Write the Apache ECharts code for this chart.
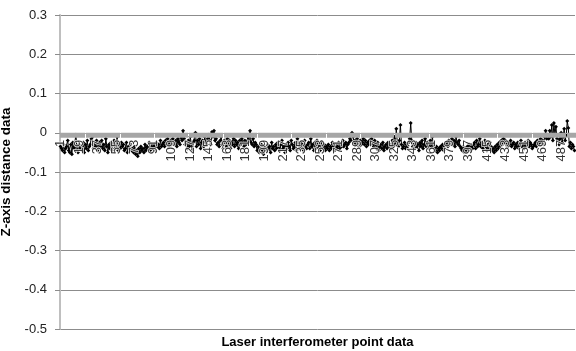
<!DOCTYPE html>
<html>
<head>
<meta charset="utf-8">
<script src="https://cdn.jsdelivr.net/npm/echarts@6/dist/echarts.min.js"></script>
<style>
  html, body { margin: 0; padding: 0; background: #fff; }
  #chart { width: 576px; height: 351px; }
</style>
</head>
<body>
<div id="chart"></div>
<script>
// Z-axis distance, points 1..500
const zValues = [
  -0.035, -0.04, -0.045, -0.03, -0.05, -0.04, -0.035, -0.02, -0.045, -0.05, -0.03, -0.055, -0.025, -0.04, -0.035, -0.005, -0.045, -0.05, -0.03, -0.04,
  -0.035, -0.045, -0.025, -0.05, -0.03, -0.04, -0.02, -0.045, -0.035, -0.03, -0.015, -0.01, -0.04, -0.025, -0.035, -0.02, -0.045, -0.03, -0.025, -0.035,
  -0.02, -0.04, -0.03, -0.045, -0.015, -0.035, -0.05, -0.03, -0.04, -0.025, -0.045, -0.03, -0.02, -0.04, -0.035, -0.01, -0.045, -0.03, -0.04, -0.025,
  -0.035, -0.03, -0.045, -0.04, -0.025, -0.05, -0.035, -0.04, -0.03, -0.045, -0.04, -0.05, -0.035, -0.055, -0.045, -0.06, -0.04, -0.05, -0.035, -0.045,
  -0.04, -0.05, -0.03, -0.045, -0.035, -0.04, -0.025, -0.045, -0.03, -0.04, -0.035, -0.03, -0.045, -0.025, -0.035, -0.03, -0.04, -0.02, -0.035, -0.03,
  -0.025, -0.035, -0.02, -0.03, -0.015, -0.035, -0.025, -0.02, -0.03, -0.015, -0.025, -0.03, -0.02, -0.035, -0.015, -0.025, -0.03, -0.01, -0.02, 0.005,
  -0.015, -0.03, -0.025, -0.04, -0.02, -0.035, -0.01, -0.03, -0.045, -0.025, -0.02, 0.0, -0.035, -0.02, -0.03, -0.015, -0.04, -0.025, -0.02, -0.035,
  -0.01, -0.025, -0.03, -0.015, -0.005, -0.02, -0.03, 0.002, -0.01, 0.005, -0.02, -0.015, -0.03, -0.025, -0.035, -0.02, -0.01, -0.03, -0.04, -0.02,
  -0.025, -0.035, -0.015, -0.03, -0.02, -0.04, -0.025, -0.03, -0.015, -0.035, -0.02, -0.03, -0.025, -0.04, -0.02, -0.03, -0.015, -0.025, -0.035, -0.02,
  -0.03, -0.025, -0.01, -0.02, 0.005, -0.025, -0.03, -0.015, -0.035, -0.025, -0.03, -0.045, -0.035, -0.05, -0.04, -0.03, -0.045, -0.055, -0.035, -0.04,
  -0.045, -0.03, -0.04, -0.035, -0.05, -0.025, -0.04, -0.035, -0.045, -0.03, -0.04, -0.025, -0.035, -0.045, -0.03, -0.02, -0.04, -0.035, -0.05, -0.03,
  -0.04, -0.025, -0.035, -0.045, -0.02, -0.03, -0.04, -0.035, -0.025, -0.045, -0.015, -0.03, -0.04, -0.025, -0.035, -0.03, -0.045, -0.02, -0.035, -0.04,
  -0.03, -0.025, -0.04, -0.015, -0.035, -0.03, -0.045, -0.025, -0.04, -0.02, -0.035, -0.03, -0.045, -0.025, -0.035, -0.04, -0.03, -0.045, -0.035, -0.04,
  -0.03, -0.045, -0.035, -0.04, -0.025, -0.035, -0.045, -0.03, -0.04, -0.035, -0.025, -0.04, -0.03, -0.035, -0.02, -0.035, -0.03, -0.025, -0.04, -0.03,
  -0.025, -0.015, -0.02, 0.0, -0.01, -0.025, -0.02, -0.03, -0.015, -0.025, -0.035, -0.02, -0.03, -0.025, -0.015, -0.03, -0.02, -0.035, -0.025, -0.03,
  -0.02, -0.03, -0.015, -0.025, -0.035, -0.02, -0.03, -0.04, -0.025, -0.045, -0.035, -0.03, -0.04, -0.025, -0.045, -0.035, -0.03, -0.04, -0.025, -0.035,
  -0.03, -0.04, -0.02, -0.035, -0.01, -0.03, 0.01, -0.025, -0.035, -0.02, 0.02, -0.03, -0.04, -0.035, -0.025, -0.04, -0.03, -0.035, -0.025, -0.015,
  0.025, -0.02, -0.035, -0.03, -0.04, -0.025, -0.035, -0.03, -0.045, -0.025, -0.035, -0.02, -0.04, -0.03, -0.015, -0.035, -0.025, -0.04, -0.03, -0.02,
  -0.035, -0.01, -0.03, -0.04, -0.045, -0.035, -0.05, -0.04, -0.045, -0.035, -0.04, -0.03, -0.045, -0.035, -0.03, -0.025, -0.035, -0.02, -0.03, -0.025,
  -0.015, -0.03, -0.02, -0.035, -0.01, -0.025, -0.03, -0.02, -0.035, -0.04, -0.045, -0.035, -0.05, -0.04, -0.045, -0.035, -0.04, -0.03, -0.045, -0.035,
  -0.04, -0.03, -0.025, -0.04, -0.02, -0.035, -0.03, -0.015, -0.035, -0.025, -0.04, -0.03, -0.02, -0.035, -0.045, -0.03, -0.04, -0.025, -0.035, -0.045,
  -0.04, -0.05, -0.035, -0.045, -0.03, -0.04, -0.025, -0.035, -0.02, -0.03, -0.015, -0.025, -0.02, -0.03, -0.035, -0.025, -0.03, -0.02, -0.035, -0.03,
  -0.025, -0.04, -0.03, -0.035, -0.025, -0.04, -0.03, -0.02, -0.035, -0.03, -0.04, -0.025, -0.035, -0.03, -0.02, -0.035, -0.025, -0.03, -0.04, -0.035,
  -0.03, -0.025, -0.035, -0.02, -0.03, -0.025, -0.015, -0.025, -0.02, -0.03, -0.01, 0.005, -0.015, -0.005, -0.015, 0.005, -0.01, 0.02, -0.02, 0.025,
  -0.005, 0.015, -0.015, -0.02, -0.03, -0.015, 0.0, -0.025, -0.01, 0.01, -0.02, -0.005, 0.03, 0.012, -0.035, -0.025, -0.04, -0.03, -0.035, -0.045
];
const pointLabels = zValues.map((_, i) => String(i + 1));

const Y_MIN = -0.5;
const Y_MAX = 0.3;
const Y_STEP = 0.1;

const GRID_TOP = 15;
const GRID_BOTTOM = 22;
const CHART_H = 351;

// x axis sits on y = 0, like Excel's "horizontal axis crosses at 0"
const plotH = CHART_H - GRID_TOP - GRID_BOTTOM;
const zeroOffset = -plotH * (0 - Y_MIN) / (Y_MAX - Y_MIN);

const FONT = '"Liberation Sans", Arial, sans-serif';

const chart = echarts.init(document.getElementById('chart'), null, { renderer: 'canvas' });

chart.setOption({
  animation: false,
  backgroundColor: '#fff',
  grid: { left: 60, right: 1, top: GRID_TOP, bottom: GRID_BOTTOM, containLabel: false, outerBoundsMode: 'none' },
  xAxis: {
    type: 'category',
    data: pointLabels,
    boundaryGap: true,
    position: 'bottom',
    offset: zeroOffset,
    zlevel: 1,
    name: 'Laser interferometer point data',
    nameLocation: 'middle',
    nameGap: 203,
    nameTextStyle: { fontFamily: FONT, fontSize: 13, fontWeight: 'bold', color: '#000' },
    axisLine: { onZero: false, lineStyle: { color: '#a6a6a6', width: 1 } },
    axisTick: { show: true, interval: 0, length: 5, lineStyle: { color: '#a6a6a6' } },
    axisLabel: {
      interval: 17,
      rotate: 90,
      margin: 7,
      fontFamily: FONT,
      fontSize: 13,
      color: '#333',
      textBorderColor: 'rgba(255,255,255,0.85)',
      textBorderWidth: 1.5
    },
    splitLine: { show: false }
  },
  yAxis: {
    type: 'value',
    min: Y_MIN,
    max: Y_MAX,
    interval: Y_STEP,
    name: 'Z-axis distance data',
    nameLocation: 'middle',
    nameGap: 42,
    nameTextStyle: { fontFamily: FONT, fontSize: 13.5, fontWeight: 'bold', color: '#000' },
    axisLine: { show: true, lineStyle: { color: '#bfbfbf', width: 2 } },
    axisTick: { show: true, length: 5, lineStyle: { color: '#8c8c8c' } },
    axisLabel: {
      margin: 13,
      fontFamily: FONT,
      fontSize: 13,
      color: '#222',
      formatter: (v) => String(Math.round(v * 10) / 10)
    },
    splitLine: { show: true, lineStyle: { color: '#8c8c8c', width: 1 } }
  },
  series: [
    {
      name: 'Z',
      type: 'line',
      data: zValues,
      symbol: 'diamond',
      symbolSize: 4,
      showAllSymbol: true,
      lineStyle: { color: '#000', width: 1 },
      itemStyle: { color: '#000' }
    }
  ]
});
</script>
</body>
</html>
